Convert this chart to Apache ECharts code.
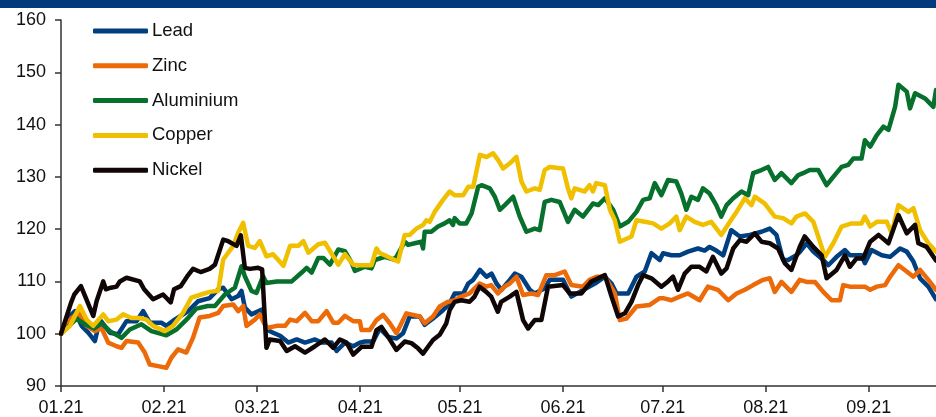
<!DOCTYPE html>
<html>
<head>
<meta charset="utf-8">
<script src="https://cdn.jsdelivr.net/npm/echarts@6/dist/echarts.min.js"></script>
<style>
html,body{margin:0;padding:0;background:#fff;}
#chart{width:936px;height:417px;}
</style>
</head>
<body>
<div id="chart"></div>
<script>
// x = days since 1 Jan 2021
const monthStarts = [0, 31, 59, 90, 120, 151, 181, 212, 243];
const monthLabels = ['01.21', '02.21', '03.21', '04.21', '05.21', '06.21', '07.21', '08.21', '09.21'];
const seriesNames = ['Lead', 'Zinc', 'Aluminium', 'Copper', 'Nickel'];

const lead = [[0,100],[2.7,103.4],[4.2,104.3],[6.2,101.5],[8.2,100.2],[10.2,98.6],[11.7,102.7],[14.7,100.2],[17.2,99.9],[19.7,102.4],[22.7,102.4],[24.7,104.3],[26.7,102.1],[30.2,102.1],[31.7,101.5],[34.2,102.7],[38.2,104.3],[41.2,106.2],[44.7,106.8],[47.3,108.5],[48.8,108.8],[51.3,106.6],[53.3,107.2],[54.3,108.2],[55.3,105],[57.3,103.7],[60.3,104.6],[61.8,100.8],[63.8,100.2],[65.9,99.6],[68.4,98.3],[70.9,98.9],[73.4,98.3],[76.4,98.9],[78.4,98.3],[81.4,98.3],[82.9,96.7],[85.4,98.3],[87.9,97.6],[89.9,98.3],[91.4,98.5],[93.9,98.5],[95.9,101],[98.4,99.4],[100.9,99.1],[102.9,100.1],[104.9,103.3],[107.9,103.3],[109.4,101.7],[111.9,102.9],[114.9,104.5],[116.9,105.8],[118.4,107.7],[121,107.7],[122.5,109.6],[124,110.3],[126,112.2],[128,110.9],[129.5,111.5],[131,109.6],[132.5,108.4],[135,110.3],[136.5,111.5],[138.5,110.9],[141,108.4],[142.5,107.7],[145.5,108.7],[147,110.3],[151,110.3],[153.5,107.1],[158,108.7],[160.6,109.6],[163.6,110.9],[165.6,109.6],[167.1,107.7],[170.6,107.7],[173.1,110.9],[175.6,111.9],[177.6,115.4],[180.1,114.1],[181.1,115.4],[183.6,115],[186.1,115],[188.6,115.7],[191.6,116.3],[193.6,115.9],[195.1,116.6],[197.1,115.9],[199.2,115],[201.6,119.8],[204.2,118.6],[207.2,118.9],[210.7,119.5],[213.2,120.1],[215.2,118.9],[217.2,114.1],[218.7,114.1],[221.2,115],[222.3,115.7],[224.3,117.3],[226.3,115.7],[229.3,114.1],[230.8,113.1],[233.3,114.7],[235.8,116],[237.3,115],[240.8,115],[241.8,113.5],[243.8,116],[246.9,115],[249.4,114.7],[252.4,116.3],[254.4,115.7],[256.4,113.8],[258.4,110.6],[260.9,109],[263.2,106.6]];

const zinc = [[0,100],[3.2,103],[5.2,104],[7.7,101.5],[10.2,100.5],[12.2,101.1],[14.2,98.3],[16.7,97.6],[18.2,97.3],[19.7,98.6],[23.2,98.3],[25.2,96.4],[26.7,94.1],[29.2,93.8],[31.7,93.5],[33.2,95.4],[35.2,97],[37.7,96.4],[39.7,99.2],[41.7,103.1],[44.7,103.4],[47.3,104],[48.8,105.3],[51.8,105.6],[53.3,104.3],[54.8,105.3],[55.8,101.5],[58.3,102.7],[59.8,103.7],[61.8,101.1],[64.9,101.5],[67.4,101.5],[68.9,102.7],[70.9,102.4],[73.4,104],[75.4,102.4],[77.4,102.4],[79.9,104.3],[81.9,102.1],[83.4,102.1],[85.4,103.4],[87.9,102.4],[89.9,102.4],[90.4,100.7],[92.9,100.7],[94.9,102.6],[96.9,103.6],[98.9,102],[100.9,100.1],[103.9,103.9],[105.9,103.6],[107.9,103.3],[109.4,102],[111.9,103.3],[113.9,105.2],[116.4,106.1],[118.4,106.4],[120.4,107.1],[122.9,107.7],[125.9,109.6],[127.9,109],[129.4,109.3],[131.4,107.7],[133.4,109],[135,109.6],[137,110.9],[139,107.4],[141.5,107.7],[143.5,107.4],[146,111.2],[148.5,111.2],[151.5,111.9],[153.5,109.3],[157,109],[159,110.3],[161.1,110.9],[163.6,110.9],[166.6,107.7],[168.1,102.6],[170.1,102.9],[173.1,105.2],[177.1,105.5],[180.1,106.8],[181.1,106.8],[183.6,106.4],[186.1,107.1],[188.6,107.7],[192.1,106.4],[194.6,109],[197.6,108.4],[200.7,106.4],[203.2,107.7],[205.7,108.4],[208.2,109.3],[211.2,110.3],[213.2,110.6],[214.7,108],[216.7,109.9],[219.7,108],[222.2,110.3],[224.3,109.9],[226.8,109.9],[229.3,108],[231.8,106.4],[234.3,106.4],[235.3,109.3],[237.3,109],[241.8,109],[243.4,108.4],[245.4,109],[247.9,109.3],[249.4,110.9],[251.9,113.1],[254.4,111.9],[256.4,110.9],[258.4,112.2],[260.9,110.3],[263.2,108.4]];

const aluminium = [[0,100],[4.7,102.9],[7.2,101.8],[10,101],[12.2,102],[14.7,100.5],[18.2,99.2],[20.7,100.8],[24.2,101.8],[27.2,100.5],[31.7,99.7],[34.7,100.8],[38.2,103],[40.7,104.8],[44.2,105.3],[46.3,105.3],[49.3,107.5],[52.3,108.8],[54.3,112.9],[55.3,111],[57.3,108.2],[58.8,107.8],[60.8,111],[61.8,109.7],[64.9,110],[69.4,110],[72.4,111.7],[73.9,112.6],[75.4,111.7],[77.4,114.5],[78.9,114.5],[80.9,113.2],[83.4,116.1],[85.4,115.8],[87.4,113.6],[88.4,112],[91.4,112.8],[93.4,112.5],[94.4,114.1],[97.4,114.7],[99.9,114.2],[100.9,114.7],[103.4,117.6],[104.4,117],[106.4,117.3],[108.4,117.6],[108.9,116.3],[109.4,119.5],[111.4,119.5],[113.4,120.5],[115.4,121.1],[116.9,121.7],[117.9,120.8],[118.4,122.1],[119.9,121.1],[121.9,121.1],[123.5,123],[125.5,128.1],[126.5,128.4],[129,127.8],[130.5,126.2],[132,123.7],[133.5,124.6],[136,126.2],[138,122.4],[140,119.5],[142.5,120.1],[144,119.8],[145.5,125.2],[147.5,125.6],[150,125.2],[152.5,121.4],[154.5,123.7],[157,122.4],[160,124.9],[161.6,124.6],[163.6,125.9],[166.1,123.7],[168.1,120.5],[170.6,121.4],[173.1,123.3],[175.1,125.6],[177.1,125.9],[178.6,128.8],[180.6,126.5],[182.6,129.4],[185.1,129.1],[186.6,126.8],[188.1,123.7],[189.6,126.2],[191.6,125.6],[193.1,127.8],[195.1,126.8],[197.1,124.6],[198.6,122.4],[200.2,124.6],[202.2,125.9],[204.7,127.2],[206.7,126.5],[208.2,130.7],[210.7,131.3],[212.7,131.9],[214.7,129.4],[216.7,130.7],[219.7,128.8],[221.7,130.3],[223.2,130.7],[225.2,131.3],[227.8,131.3],[230.3,128.4],[232.3,130],[234.8,131.9],[236.8,132.3],[238.3,133.5],[240.8,133.5],[241.8,137],[243.4,135.8],[245.4,138],[247.4,139.6],[248.9,139],[250.9,143.4],[251.9,147.6],[254.4,146.3],[255.4,143.1],[256.9,146],[259.9,145],[262.4,143.4],[263.2,146.6]];

const copper = [[0,100],[2.7,101.5],[5.7,105.3],[7.7,102.7],[9.7,101.5],[12.7,103.7],[14.2,102.4],[16.7,102.7],[18.7,103.7],[21.2,103],[23.7,103],[25.7,102.7],[27.7,101.5],[31.2,100.5],[33.7,101.5],[36.7,104],[39.2,106.9],[42.2,107.5],[44.7,108],[47.3,108.2],[48.8,114.2],[51.8,116.8],[53.3,119.3],[54.8,121.2],[56.3,116.8],[58.3,116.4],[59.8,117.7],[61.8,114.8],[63.8,115.2],[66.9,113],[68.9,116.8],[71.4,116.8],[72.9,117.7],[74.4,115.5],[77.4,117.1],[79.4,117.4],[81.9,114.8],[83.4,113.2],[85.4,115.2],[87.9,113.2],[89.9,113.1],[91.4,113.1],[93.4,113.1],[94.9,116.3],[95.9,115.4],[97.4,115],[99.4,114.4],[101.4,113.8],[103.4,118.9],[104.9,118.9],[106.9,120.1],[108.9,120.8],[109.9,121.7],[110.9,121.4],[112.4,123.3],[114.9,125.6],[116.9,127.2],[118.4,126.5],[121,126.5],[122.5,128.1],[124,128.1],[126,134.2],[128,133.8],[130,134.5],[131.5,133.2],[133,131.6],[135,132.6],[137,133.8],[138.5,129.1],[140,127.2],[142.5,127.8],[144,127.5],[145.5,131.3],[147,131.9],[151,131.6],[152.5,127.8],[153.5,125.9],[154.5,127.8],[157.5,127.2],[159,128.4],[160,127.2],[161,128.8],[163.6,128.4],[165.1,123.7],[166.6,121.7],[168.1,117.6],[171.6,118.6],[173.1,121.7],[175.6,121.4],[178.1,121.1],[180.6,120.1],[183.1,121.1],[185.1,122.4],[186.1,119.8],[188.1,122.4],[190.6,121.4],[193.1,120.8],[195.6,121.4],[198.6,118.9],[201.2,121.4],[203.2,123.3],[205.7,125.9],[207.7,124.6],[208.7,126.2],[211.7,124.9],[214.7,122.4],[217.2,122.1],[219.7,121.1],[221.2,122.4],[223.8,123],[226.3,121.4],[229.8,114.7],[232.3,117.3],[234.8,120.5],[237.8,121.1],[240.8,121.1],[241.8,122.4],[243.4,120.5],[245.4,121.4],[248.4,121.4],[249.9,119.2],[251.9,124.6],[254.9,123.3],[256.4,124],[258.4,119.8],[260.9,117.3],[263.2,115.7]];

const nickel = [[0,100],[3,105.9],[4,107.5],[6,109.1],[9.7,103.4],[10.7,106.2],[12.7,110],[13.5,108.5],[15,108.8],[16.7,109],[17.7,110],[19.7,110.7],[23.7,110],[25,108.5],[27.7,106.6],[30.7,107.5],[33,106],[34,108.5],[36,109.1],[38,111],[39.7,112.4],[42,111.8],[44.7,112.4],[46.3,113.2],[48.8,118],[50.3,117.7],[52.8,116.8],[54.1,118.8],[55.3,112.6],[56.8,112.4],[59.3,112.6],[60.5,112.3],[61.8,97.3],[62.8,98.9],[65.9,98.6],[67.9,96.7],[70.4,97.6],[73.4,96.4],[76.4,97.6],[79.4,98.9],[81.9,97.3],[83.9,98.9],[85.9,98.3],[87.9,96],[88.4,96.2],[90.4,97.5],[93.4,97.5],[94.9,100.7],[96.4,101.3],[98.4,99.4],[100.9,96.9],[103.4,98.5],[105.4,98.2],[107.4,97.2],[108.9,96.2],[110.4,97.5],[111.9,98.8],[113.9,99.8],[115.9,102],[116.9,104.5],[118.4,106.1],[120.4,106.4],[122.9,106.1],[124.4,107.1],[125.9,109],[127.9,108],[129.4,107.1],[131.4,104.2],[132.4,106.1],[135,107.1],[137,108],[139,102.6],[140.5,101],[142.5,102.6],[144.5,102.6],[146.5,109],[151,109.3],[153,107.7],[156.5,107.7],[159.5,110],[163.6,111.2],[165.6,107.1],[167.6,103.3],[169.6,103.9],[171.6,106.1],[173.6,109.3],[175.1,111.2],[177.6,110.6],[180.6,109],[182.6,110],[184.1,110.9],[185.6,108.4],[187.6,111.5],[189.6,112.8],[192.1,112.8],[194.1,111.9],[196.1,114.7],[198.6,111.5],[200.2,112.5],[202.2,116.3],[204.2,117.9],[206.2,117.6],[208.7,119.2],[210.7,117.6],[213.2,117.3],[215.7,116.3],[217.7,113.5],[219.7,112.2],[222.2,116.6],[223.7,118.6],[226.3,116.6],[228.8,115],[230.3,110.6],[233.3,112.2],[235.8,115],[237.3,112.8],[239.3,114.4],[241.3,114.4],[243.4,117.6],[245.9,118.9],[248.9,117.3],[251.9,122.7],[254.4,119.2],[256.9,120.8],[257.9,117.3],[260.4,116.6],[263.2,114]];

const colors = ['#003f80', '#ec6a08', '#06702c', '#efbf00', '#110606'];
const dataSets = [lead, zinc, aluminium, copper, nickel];

const chart = echarts.init(document.getElementById('chart'), null, {renderer: 'canvas'});
const font = "'Liberation Sans', Arial, sans-serif";
const axisColor = '#333';

chart.setOption({
  animation: false,
  color: colors,
  graphic: [{
    type: 'rect', left: 0, top: 0, z: 100,
    shape: {width: 936, height: 8},
    style: {fill: '#023b7b'}
  }],
  legend: {
    orient: 'vertical',
    left: 93, top: 21, padding: 0,
    itemWidth: 55, itemHeight: 5, itemGap: 14.8,
    icon: 'roundRect',
    data: seriesNames,
    textStyle: {fontFamily: font, fontSize: 18.5, color: '#111', lineHeight: 20, padding: [0, 0, 0, -1]}
  },
  grid: {left: 61, right: 0, top: 20, bottom: 31, containLabel: false},
  xAxis: {
    type: 'value', min: 0, max: 263.2,
    axisLine: {show: true, lineStyle: {color: axisColor, width: 1.5}},
    axisTick: {show: true, length: 6, customValues: monthStarts, lineStyle: {color: axisColor, width: 1.5}},
    axisLabel: {
      customValues: monthStarts, margin: 13, fontFamily: font, fontSize: 18, color: '#111',
      formatter: function (v) { const i = monthStarts.indexOf(Math.round(v)); return i >= 0 ? monthLabels[i] : ''; }
    },
    splitLine: {show: false}
  },
  yAxis: {
    type: 'value', min: 90, max: 160, interval: 10,
    axisLine: {show: true, lineStyle: {color: axisColor, width: 1.5}},
    axisTick: {show: true, length: 6, lineStyle: {color: axisColor, width: 1.5}},
    axisLabel: {margin: 15, fontFamily: font, fontSize: 18, color: '#111'},
    splitLine: {show: false}
  },
  series: seriesNames.map((name, i) => ({
    name: name,
    type: 'line',
    data: dataSets[i],
    showSymbol: false,
    symbol: 'none',
    lineStyle: {width: 4.5, color: colors[i], join: 'round', cap: 'round'},
    itemStyle: {color: colors[i]},
    z: 2 + i
  }))
});
</script>
</body>
</html>
